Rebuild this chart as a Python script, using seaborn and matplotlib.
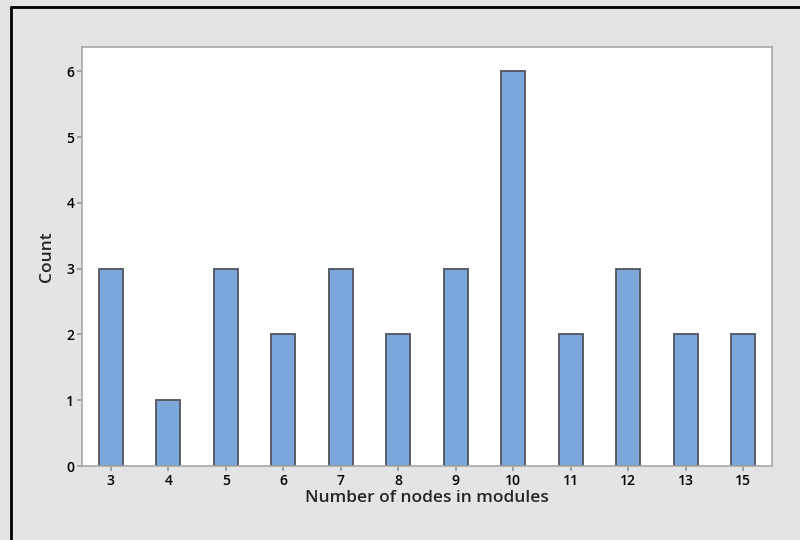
import matplotlib
matplotlib.use("Agg")
import matplotlib.pyplot as plt
import seaborn as sns
import pandas as pd
from matplotlib.lines import Line2D

# histogram of module sizes
nodes = ["3", "4", "5", "6", "7", "8", "9", "10", "11", "12", "13", "15"]
counts = [3, 1, 3, 2, 3, 2, 3, 6, 2, 3, 2, 2]

sns.set_style("white")
plt.rcParams['font.family'] = ['Open Sans', 'DejaVu Sans']

bg = "#e4e4e4"
fig = plt.figure(figsize=(8, 5.4), dpi=100, facecolor=bg)
ax = fig.add_axes([0.1025, 0.137, 0.8625, 0.776])
ax.set_facecolor("white")

df = pd.DataFrame({"nodes": nodes, "count": counts})
sns.barplot(data=df, x="nodes", y="count", order=nodes, color="#7ba7da",
            saturation=1, width=0.42, edgecolor="#50535e", linewidth=1.3, ax=ax)

ax.set_xlim(-0.5, len(nodes) - 0.5)
ax.set_ylim(0, 6.37)
ax.set_yticks(range(0, 7))
ax.set_xlabel("Number of nodes in modules", fontsize=12.5, fontweight="semibold", labelpad=2)
ax.set_ylabel("Count", fontsize=12.5, fontweight="semibold", labelpad=8)
for s in ax.spines.values():
    s.set_color("#a8a8a8")
    s.set_linewidth(1.2)
ax.tick_params(axis="both", bottom=True, left=True, length=3.5, width=1.2, color="#999999",
               labelsize=10, labelcolor="black", pad=2, direction="out")
for lab in ax.get_xticklabels() + ax.get_yticklabels():
    lab.set_fontweight("semibold")

# outer frame lines (top and left)
fig.add_artist(Line2D([11 / 800, 11 / 800], [0, 1 - 7 / 540], color="black", lw=2))
fig.add_artist(Line2D([11 / 800, 1], [1 - 7 / 540, 1 - 7 / 540], color="black", lw=2))

fig.savefig("out.png", dpi=100, facecolor=bg)
